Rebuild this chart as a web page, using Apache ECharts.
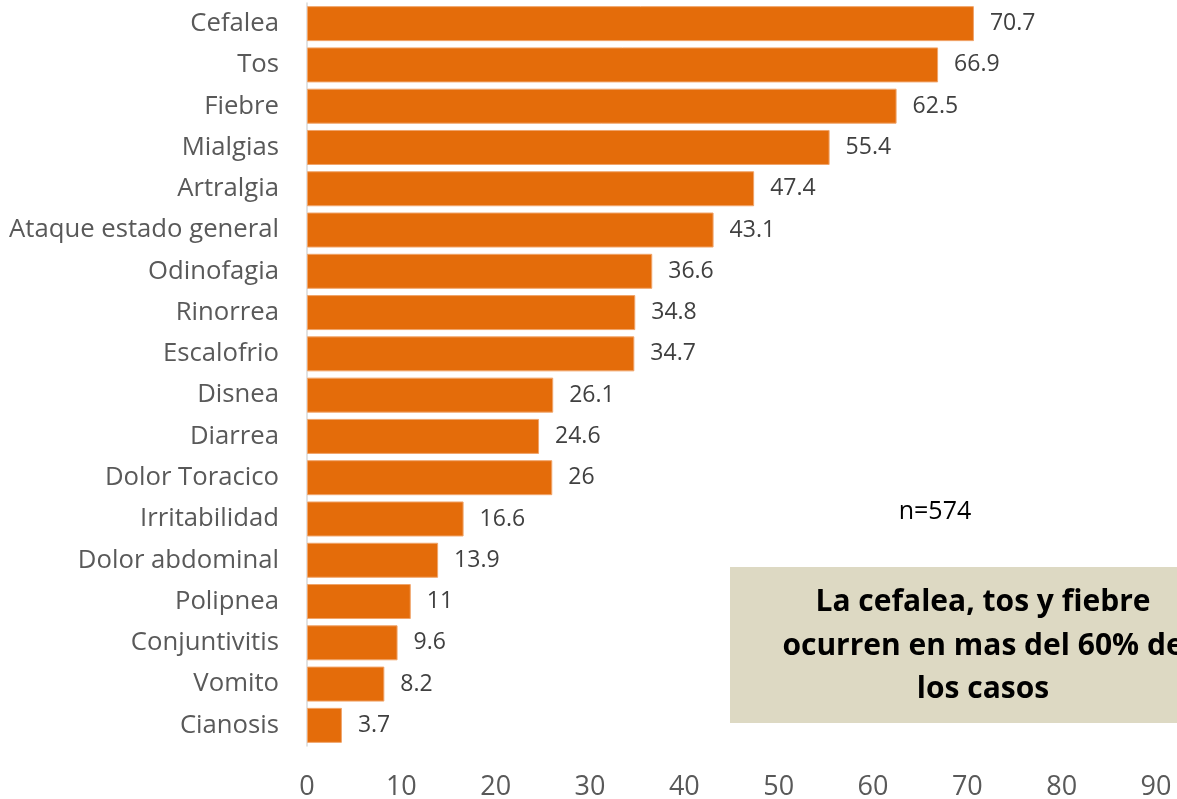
<!DOCTYPE html>
<html>
<head>
<meta charset="utf-8">
<script src="https://cdn.jsdelivr.net/npm/echarts@6/dist/echarts.min.js"></script>
<style>
html,body{margin:0;padding:0;background:#ffffff;}
#c{width:1177px;height:799px;}
</style>
</head>
<body>
<div id="c"></div>
<script>
const categories = ["Cefalea","Tos","Fiebre","Mialgias","Artralgia","Ataque estado general","Odinofagia","Rinorrea","Escalofrio","Disnea","Diarrea","Dolor Toracico","Irritabilidad","Dolor abdominal","Polipnea","Conjuntivitis","Vomito","Cianosis"];
const values = [70.7,66.9,62.5,55.4,47.4,43.1,36.6,34.8,34.7,26.1,24.6,26,16.6,13.9,11,9.6,8.2,3.7];
const xTicks = [0,10,20,30,40,50,60,70,80,90];
const noteLines = ["La cefalea, tos y fiebre","ocurren en mas del 60% de","los casos"];
const nText = "n=574";

const chart = echarts.init(document.getElementById('c'), null, {renderer:'canvas'});
chart.setOption({
  animation:false,
  backgroundColor:'#ffffff',
  grid:{left:307, right:21, top:3, bottom:53, containLabel:false, outerBoundsMode:'none'},
  xAxis:{
    type:'value', min:xTicks[0], max:xTicks[xTicks.length-1], interval:10,
    axisLine:{show:false}, axisTick:{show:false}, splitLine:{show:false},
    axisLabel:{color:'#595959', fontSize:27, fontFamily:'Open Sans', margin:28}
  },
  yAxis:{
    type:'category', data:categories, inverse:true,
    axisLine:{show:true, lineStyle:{color:'#d9d9d9', width:1.5}},
    axisTick:{show:false},
    axisLabel:{color:'#595959', fontSize:25.7, fontFamily:'Open Sans', margin:28}
  },
  series:[{
    type:'bar', data:values, barWidth:35,
    itemStyle:{color:'#e46c0a', borderColor:'#f0a46a', borderWidth:1},
    label:{show:true, position:'right', distance:16, color:'#404040', fontSize:23, fontFamily:'Open Sans'}
  }],
  graphic:[
    {type:'rect', shape:{x:730, y:567, width:520, height:156}, style:{fill:'#ddd9c3'}, z:10},
    {type:'text', x:983, y:602, style:{text:noteLines[0], fill:'#000', font:'bold 30px "Open Sans"', align:'center', verticalAlign:'middle'}, z:11},
    {type:'text', x:983, y:646, style:{text:noteLines[1], fill:'#000', font:'bold 30px "Open Sans"', align:'center', verticalAlign:'middle'}, z:11},
    {type:'text', x:983, y:689, style:{text:noteLines[2], fill:'#000', font:'bold 30px "Open Sans"', align:'center', verticalAlign:'middle'}, z:11},
    {type:'text', x:935, y:512, style:{text:nText, fill:'#000', font:'25px "Open Sans"', align:'center', verticalAlign:'middle'}, z:11}
  ]
});
</script>
</body>
</html>
